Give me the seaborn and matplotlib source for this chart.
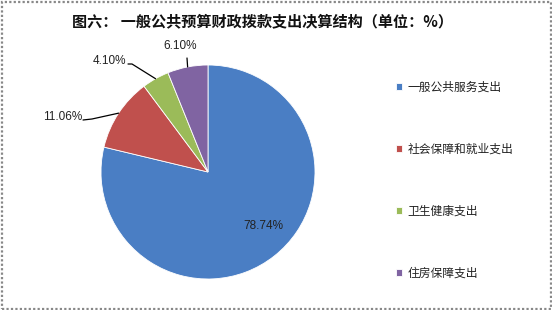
import matplotlib
matplotlib.use("Agg")
import matplotlib.pyplot as plt
import seaborn as sns
import numpy as np
from matplotlib.patches import Rectangle

sns.set_theme(style="white")
plt.rcParams['font.family'] = ['Noto Sans CJK SC', 'DejaVu Sans']

# Data
categories = ["一般公共服务支出", "社会保障和就业支出", "卫生健康支出", "住房保障支出"]
values = [78.74, 11.06, 4.10, 6.10]
value_labels = ["78.74%", "11.06%", "4.10%", "6.10%"]
colors = ["#4A7EC4", "#C0504D", "#9BBB59", "#8064A2"]
title = "图六： 一般公共预算财政拨款支出决算结构（单位：%）"

W, H = 552, 310
fig = plt.figure(figsize=(W / 100, H / 100), dpi=100)
fig.patch.set_facecolor("white")

# pie geometry in pixels
cx, cy, r = 208, 172, 107
ax = fig.add_axes([(cx - r) / W, (H - cy - r) / H, 2 * r / W, 2 * r / H])
wedges, _ = ax.pie(values, colors=colors, startangle=90, counterclock=False,
                   radius=1.0, wedgeprops=dict(linewidth=0.6, edgecolor="white"))
ax.set_xlim(-1, 1)
ax.set_ylim(-1, 1)
ax.set_aspect("equal")
ax.axis("off")

def px(x, y):
    return ((x - cx) / r, (cy - y) / r)

pct_font = dict(family=["Liberation Sans", "DejaVu Sans"], fontsize=8.5, color="#222222")

# inside label for largest slice
tx, ty = px(263, 226)
ax.text(tx, ty, value_labels[0], ha="center", va="center", **pct_font)

# outside labels with leader lines
def edge_point(i):
    w = wedges[i]
    ang = np.deg2rad((w.theta1 + w.theta2) / 2)
    return np.cos(ang), np.sin(ang)

ext = {
    1: dict(text=(82, 117), ha="right", bend=[(83, 120), (92, 119)]),
    2: dict(text=(126, 61), ha="right", bend=[(128, 64), (132, 64)]),
    3: dict(text=(180, 46), ha="center", bend=[(187, 58)]),
}
for i, d in ext.items():
    ex, ey = edge_point(i)
    pts = [px(*p) for p in d["bend"]] + [(ex, ey)]
    xs = [p[0] for p in pts]
    ys = [p[1] for p in pts]
    ax.plot(xs, ys, color="black", lw=0.9, clip_on=False)
    lx, ly = px(*d["text"])
    ax.text(lx, ly, value_labels[i], ha=d["ha"], va="center", clip_on=False, **pct_font)

# title
fig.text(262 / W, 1 - 21 / H, title, ha="center", va="center",
         fontsize=10.9, fontweight="bold", color="#111111")

# legend
leg = fig.legend(wedges, categories, loc="upper left",
                 bbox_to_anchor=(396 / W, 1 - 81 / H), frameon=False,
                 fontsize=8.5, handlelength=0.5, handleheight=0.5,
                 handletextpad=0.45, labelspacing=4.15, borderpad=0, borderaxespad=0)
for t in leg.get_texts():
    t.set_color("#222222")

# dotted border
fig.add_artist(Rectangle((1.5 / W, 1.5 / H), (W - 3) / W, (H - 3) / H,
                         transform=fig.transFigure, fill=False,
                         edgecolor="#888888", lw=1.6, linestyle=(0, (1, 1))))

fig.savefig("out.png", dpi=100, facecolor="white")
